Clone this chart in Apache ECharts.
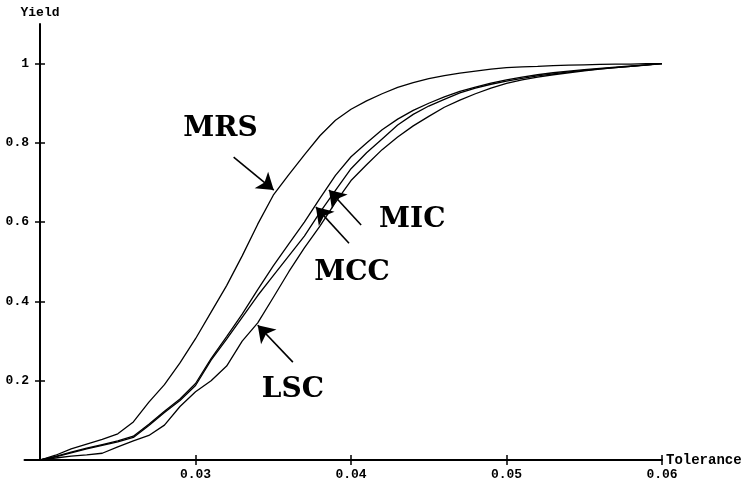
<!DOCTYPE html>
<html>
<head>
<meta charset="utf-8">
<title>Yield vs Tolerance</title>
<script src="https://cdn.jsdelivr.net/npm/echarts@6/dist/echarts.min.js"></script>
<style>
    html, body { margin: 0; padding: 0; background: #fff; }
    #chart { width: 755px; height: 484px; }
</style>
</head>
<body>
<div id="chart"></div>
<script>
// 横轴：公差
const tolerance = [
    0.020, 0.021, 0.022, 0.023, 0.024, 0.025, 0.026, 0.027, 0.028, 0.029,
    0.030, 0.031, 0.032, 0.033, 0.034, 0.035, 0.036, 0.037, 0.038, 0.039,
    0.040, 0.041, 0.042, 0.043, 0.044, 0.045, 0.046, 0.047, 0.048, 0.049,
    0.050, 0.051, 0.052, 0.053, 0.054, 0.055, 0.056, 0.057, 0.058, 0.059,
    0.060
];

// 各方法的成品率
const yieldMRS = [
    0, 0.012, 0.028, 0.040, 0.052, 0.066, 0.096, 0.146, 0.190, 0.245,
    0.306, 0.373, 0.440, 0.515, 0.595, 0.668, 0.720, 0.770, 0.818, 0.857,
    0.885, 0.906, 0.924, 0.940, 0.952, 0.962, 0.970, 0.976, 0.981, 0.986,
    0.990, 0.992, 0.993, 0.995, 0.996, 0.997, 0.998, 0.999, 0.999, 1.000,
    1.000
];
const yieldMIC = [
    0, 0.008, 0.018, 0.028, 0.037, 0.046, 0.057, 0.087, 0.120, 0.150,
    0.188, 0.252, 0.305, 0.360, 0.415, 0.465, 0.515, 0.565, 0.625, 0.680,
    0.735, 0.775, 0.810, 0.845, 0.872, 0.893, 0.910, 0.926, 0.938, 0.948,
    0.956, 0.963, 0.969, 0.974, 0.979, 0.983, 0.987, 0.990, 0.993, 0.996,
    1.000
];
const yieldMCC = [
    0, 0.009, 0.020, 0.030, 0.039, 0.048, 0.060, 0.090, 0.123, 0.154,
    0.193, 0.256, 0.311, 0.368, 0.430, 0.490, 0.545, 0.600, 0.660, 0.718,
    0.765, 0.800, 0.833, 0.860, 0.882, 0.900, 0.916, 0.930, 0.941, 0.951,
    0.959, 0.966, 0.972, 0.977, 0.981, 0.985, 0.988, 0.991, 0.994, 0.997,
    1.000
];
const yieldLSC = [
    0, 0.005, 0.010, 0.013, 0.017, 0.033, 0.048, 0.062, 0.088, 0.135,
    0.172, 0.200, 0.237, 0.300, 0.346, 0.410, 0.475, 0.535, 0.590, 0.650,
    0.705, 0.745, 0.783, 0.815, 0.843, 0.867, 0.890, 0.908, 0.924, 0.938,
    0.950, 0.959, 0.966, 0.972, 0.977, 0.982, 0.986, 0.990, 0.993, 0.997,
    1.000
];

// 刻度
const xTickValues = [0.03, 0.04, 0.05, 0.06];
const yTickValues = [0.2, 0.4, 0.6, 0.8, 1];

// 标注文字及箭头（数据坐标）
const noteNames = ['MRS', 'MIC', 'MCC', 'LSC'];
const noteCoords = [[0.03161, 0.837], [0.04394, 0.605], [0.04007, 0.472], [0.03626, 0.177]];
const arrowTails = [[0.03245, 0.764], [0.04065, 0.593], [0.03987, 0.547], [0.03626, 0.247]];
const arrowTips = [[0.03503, 0.681], [0.03858, 0.681], [0.03774, 0.638], [0.03400, 0.340]];

const monoFont = 'Liberation Mono';
const axisColor = '#000';

function toPairs(values) {
    return tolerance.map((t, i) => [t, values[i]]);
}

function lineSeries(name, values, extra) {
    return Object.assign({
        name: name,
        type: 'line',
        data: toPairs(values),
        symbol: 'none',
        showSymbol: false,
        smooth: false,
        lineStyle: { color: '#000', width: 1.3 },
        itemStyle: { color: '#000' },
        xAxisIndex: 0,
        yAxisIndex: 0
    }, extra || {});
}

const chart = echarts.init(document.getElementById('chart'));

const option = {
    animation: false,
    backgroundColor: '#fff',
    grid: {
        left: 24.5,
        right: 93,
        top: 24,
        bottom: 24,
        outerBoundsMode: 'none'
    },
    xAxis: [
        {
            type: 'value',
            min: 0.019,
            max: 0.06,
            position: 'bottom',
            name: 'Tolerance',
            nameLocation: 'end',
            nameGap: 4,
            nameTextStyle: { fontFamily: monoFont, fontSize: 14, fontWeight: 'bold', color: '#000' },
            axisLine: { show: true, onZero: false, lineStyle: { color: axisColor, width: 2 } },
            axisTick: { show: true, customValues: xTickValues, length: 5, lineStyle: { color: axisColor, width: 1.5 } },
            axisLabel: {
                customValues: xTickValues,
                formatter: v => v.toFixed(2),
                margin: 8,
                fontFamily: monoFont,
                fontSize: 13,
                fontWeight: 'bold',
                color: '#000'
            },
            splitLine: { show: false }
        },
        {
            // 内侧刻度，使刻度线穿过坐标轴
            type: 'value',
            min: 0.019,
            max: 0.06,
            position: 'bottom',
            axisLine: { show: false },
            axisTick: { show: true, inside: true, customValues: xTickValues, length: 5, lineStyle: { color: axisColor, width: 1.5 } },
            axisLabel: { show: false },
            splitLine: { show: false }
        }
    ],
    yAxis: [
        {
            type: 'value',
            min: 0,
            max: 1.1,
            position: 'left',
            offset: -15.5,
            name: 'Yield',
            nameLocation: 'end',
            nameGap: 5,
            nameTextStyle: { fontFamily: monoFont, fontSize: 13, fontWeight: 'bold', color: '#000' },
            axisLine: { show: true, onZero: false, lineStyle: { color: axisColor, width: 2 } },
            axisTick: { show: true, customValues: yTickValues, length: 5, lineStyle: { color: axisColor, width: 1.5 } },
            axisLabel: {
                customValues: yTickValues,
                margin: 11,
                fontFamily: monoFont,
                fontSize: 13,
                fontWeight: 'bold',
                color: '#000'
            },
            splitLine: { show: false }
        },
        {
            type: 'value',
            min: 0,
            max: 1.1,
            position: 'left',
            offset: -15.5,
            axisLine: { show: false },
            axisTick: { show: true, inside: true, customValues: yTickValues, length: 5, lineStyle: { color: axisColor, width: 1.5 } },
            axisLabel: { show: false },
            splitLine: { show: false }
        }
    ],
    series: [
        lineSeries('MRS', yieldMRS, {
            markLine: {
                silent: true,
                symbol: ['none', 'arrow'],
                symbolSize: 16,
                itemStyle: { color: '#000' },
                lineStyle: { color: '#000', width: 1.6, type: 'solid' },
                label: { show: false },
                emphasis: { disabled: true },
                data: arrowTails.map((tail, i) => [{ coord: tail }, { coord: arrowTips[i] }])
            },
            markPoint: {
                silent: true,
                symbol: 'circle',
                symbolSize: 1,
                itemStyle: { color: 'rgba(0,0,0,0)' },
                label: {
                    show: true,
                    position: 'inside',
                    formatter: '{b}',
                    fontFamily: 'DejaVu Serif',
                    fontWeight: 'bold',
                    fontSize: 28,
                    color: '#000'
                },
                data: noteNames.map((n, i) => ({ name: n, coord: noteCoords[i] }))
            }
        }),
        lineSeries('MIC', yieldMIC),
        lineSeries('MCC', yieldMCC),
        lineSeries('LSC', yieldLSC)
    ]
};

chart.setOption(option);
</script>
</body>
</html>
